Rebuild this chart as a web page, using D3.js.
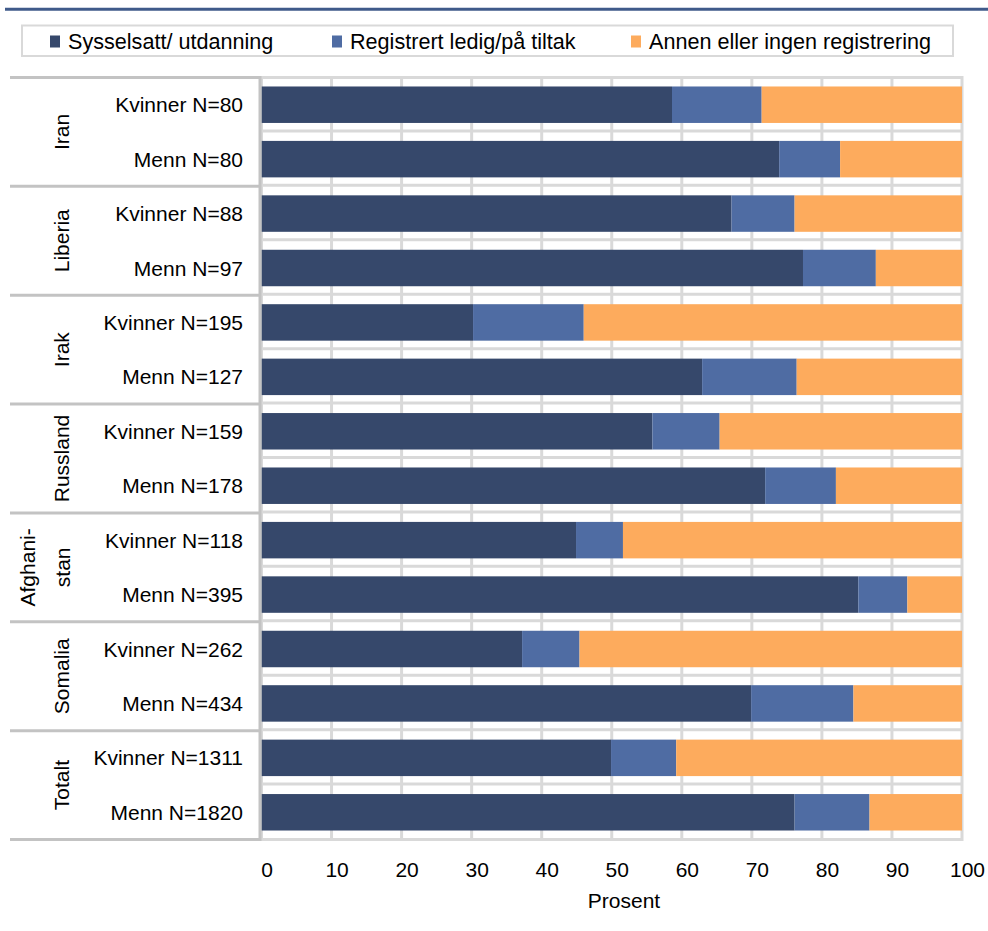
<!DOCTYPE html>
<html>
<head>
<meta charset="utf-8">
<script src="https://cdn.jsdelivr.net/npm/d3@7"></script>
<style>
  html, body { margin: 0; padding: 0; background: #ffffff; }
  svg { display: block; font-family: "Liberation Sans", Arial, sans-serif; }
</style>
</head>
<body>
<svg id="chart" width="988" height="931"></svg>
<script>
// ---- data ----
const groups = ["Iran", "Liberia", "Irak", "Russland", "Afghani-\nstan", "Somalia", "Totalt"];
const rowLabels = [
  "Kvinner N=80", "Menn N=80",
  "Kvinner N=88", "Menn N=97",
  "Kvinner N=195", "Menn N=127",
  "Kvinner N=159", "Menn N=178",
  "Kvinner N=118", "Menn N=395",
  "Kvinner N=262", "Menn N=434",
  "Kvinner N=1311", "Menn N=1820"
];
const seriesNames = ["Sysselsatt/ utdanning", "Registrert ledig/på tiltak", "Annen eller ingen registrering"];
const sysselsatt = [58.6, 73.9, 67.1, 77.3, 30.2, 62.9, 55.8, 71.9, 44.9, 85.2, 37.2, 69.9, 49.9, 76.1];
const registrert = [12.8, 8.7, 9.0, 10.4, 15.8, 13.5, 9.6, 10.1, 6.7, 7.0, 8.2, 14.6, 9.3, 10.7];
const annen      = [28.6, 17.4, 23.9, 12.3, 54.0, 23.6, 34.6, 18.0, 48.4, 7.8, 54.6, 15.5, 40.8, 13.2];
const xTicks = [0, 10, 20, 30, 40, 50, 60, 70, 80, 90, 100];
const xTitle = "Prosent";

// ---- layout ----
const colors = ["#36486b", "#4f6ca3", "#fdab5d"];
const svg = d3.select("#chart");
const plotLeft = 261.5, plotRight = 962, plotTop = 77.5, plotBottom = 839.5;
const FS = 21;

const x = d3.scaleLinear().domain([0, 100]).range([plotLeft, plotRight]);
const rowIds = d3.range(rowLabels.length);
const y = d3.scaleBand().domain(rowIds).range([plotTop, plotBottom]).paddingInner(0.33).paddingOuter(0.165);
const step = (plotBottom - plotTop) / rowIds.length;

// top blue rule
svg.append("line").attr("x1", 5).attr("x2", 988).attr("y1", 9.3).attr("y2", 9.3)
  .attr("stroke", "#3f5a8a").attr("stroke-width", 3);

// legend
svg.append("rect").attr("x", 22).attr("y", 25.5).attr("width", 931).attr("height", 30.5)
  .attr("fill", "none").attr("stroke", "#d9d9d9").attr("stroke-width", 2);
const legX = [50, 332, 631];
seriesNames.forEach((s, i) => {
  svg.append("rect").attr("x", legX[i]).attr("y", 35.5).attr("width", 10).attr("height", 12).attr("fill", colors[i]);
  svg.append("text").attr("x", legX[i] + 18).attr("y", 48.5).attr("font-size", 21.6).attr("fill", "#000").text(s);
});

// gridlines (vertical)
svg.append("g").selectAll("line").data(xTicks.slice(1, -1)).join("line")
  .attr("x1", d => x(d)).attr("x2", d => x(d)).attr("y1", plotTop).attr("y2", plotBottom)
  .attr("stroke", "#d9d9d9").attr("stroke-width", 3);
// gridlines (horizontal, at row boundaries)
svg.append("g").selectAll("line").data(d3.range(1, rowIds.length)).join("line")
  .attr("x1", plotLeft).attr("x2", plotRight)
  .attr("y1", d => plotTop + d * step - 1).attr("y2", d => plotTop + d * step - 1)
  .attr("stroke", "#d9d9d9").attr("stroke-width", 3);
// plot border
svg.append("rect").attr("x", plotLeft).attr("y", plotTop).attr("width", plotRight - plotLeft).attr("height", plotBottom - plotTop)
  .attr("fill", "none").attr("stroke", "#d9d9d9").attr("stroke-width", 3);

// stacked bars
const rows = rowIds.map(i => ({ i, v: [sysselsatt[i], registrert[i], annen[i]] }));
const stack = d3.stack().keys([0, 1, 2]).value((d, k) => d.v[k]);
const stacked = stack(rows);
svg.append("g").selectAll("g").data(stacked).join("g")
  .attr("fill", (d, k) => colors[k])
  .selectAll("rect").data(d => d).join("rect")
  .attr("x", d => x(d[0]))
  .attr("width", d => Math.min(x(d[1]), plotRight) - x(d[0]))
  .attr("y", d => y(d.data.i))
  .attr("height", y.bandwidth());

// left category panel
const panelStroke = "#c3c3c3";
svg.append("line").attr("x1", 260).attr("x2", 260).attr("y1", plotTop - 1.5).attr("y2", plotBottom + 1.5)
  .attr("stroke", panelStroke).attr("stroke-width", 3);
svg.append("g").selectAll("line").data(d3.range(0, groups.length + 1)).join("line")
  .attr("x1", 10).attr("x2", 260)
  .attr("y1", d => plotTop + d * 2 * step).attr("y2", d => plotTop + d * 2 * step)
  .attr("stroke", panelStroke).attr("stroke-width", 3);

// row labels
svg.append("g").selectAll("text").data(rowIds).join("text")
  .attr("x", 243).attr("y", d => y(d) + y.bandwidth() / 2 + 7.5)
  .attr("text-anchor", "end").attr("font-size", FS).attr("fill", "#000")
  .text(d => rowLabels[d]);

// group labels (rotated)
groups.forEach((g, gi) => {
  const cy = plotTop + (gi * 2 + 1) * step;
  const lines = g.split("\n");
  const baselines = lines.length === 1 ? [68.5] : [35, 69.5];
  lines.forEach((ln, li) => {
    svg.append("text")
      .attr("transform", `translate(${baselines[li]},${cy}) rotate(-90)`)
      .attr("text-anchor", "middle").attr("font-size", FS).attr("fill", "#000")
      .text(ln);
  });
});

// x axis
const xAxis = d3.axisBottom(x).tickValues(xTicks).tickSize(0).tickPadding(0).tickFormat(d3.format("d"));
const ax = svg.append("g").attr("transform", `translate(0,${plotBottom})`).call(xAxis);
ax.select(".domain").remove();
ax.selectAll("text").attr("font-size", FS).attr("font-family", "Liberation Sans, Arial, sans-serif")
  .attr("fill", "#000").attr("dy", null).attr("y", 37.5).attr("dx", 5);

svg.append("text").attr("x", 624).attr("y", 908).attr("text-anchor", "middle")
  .attr("font-size", FS).attr("fill", "#000").text(xTitle);
</script>
</body>
</html>
